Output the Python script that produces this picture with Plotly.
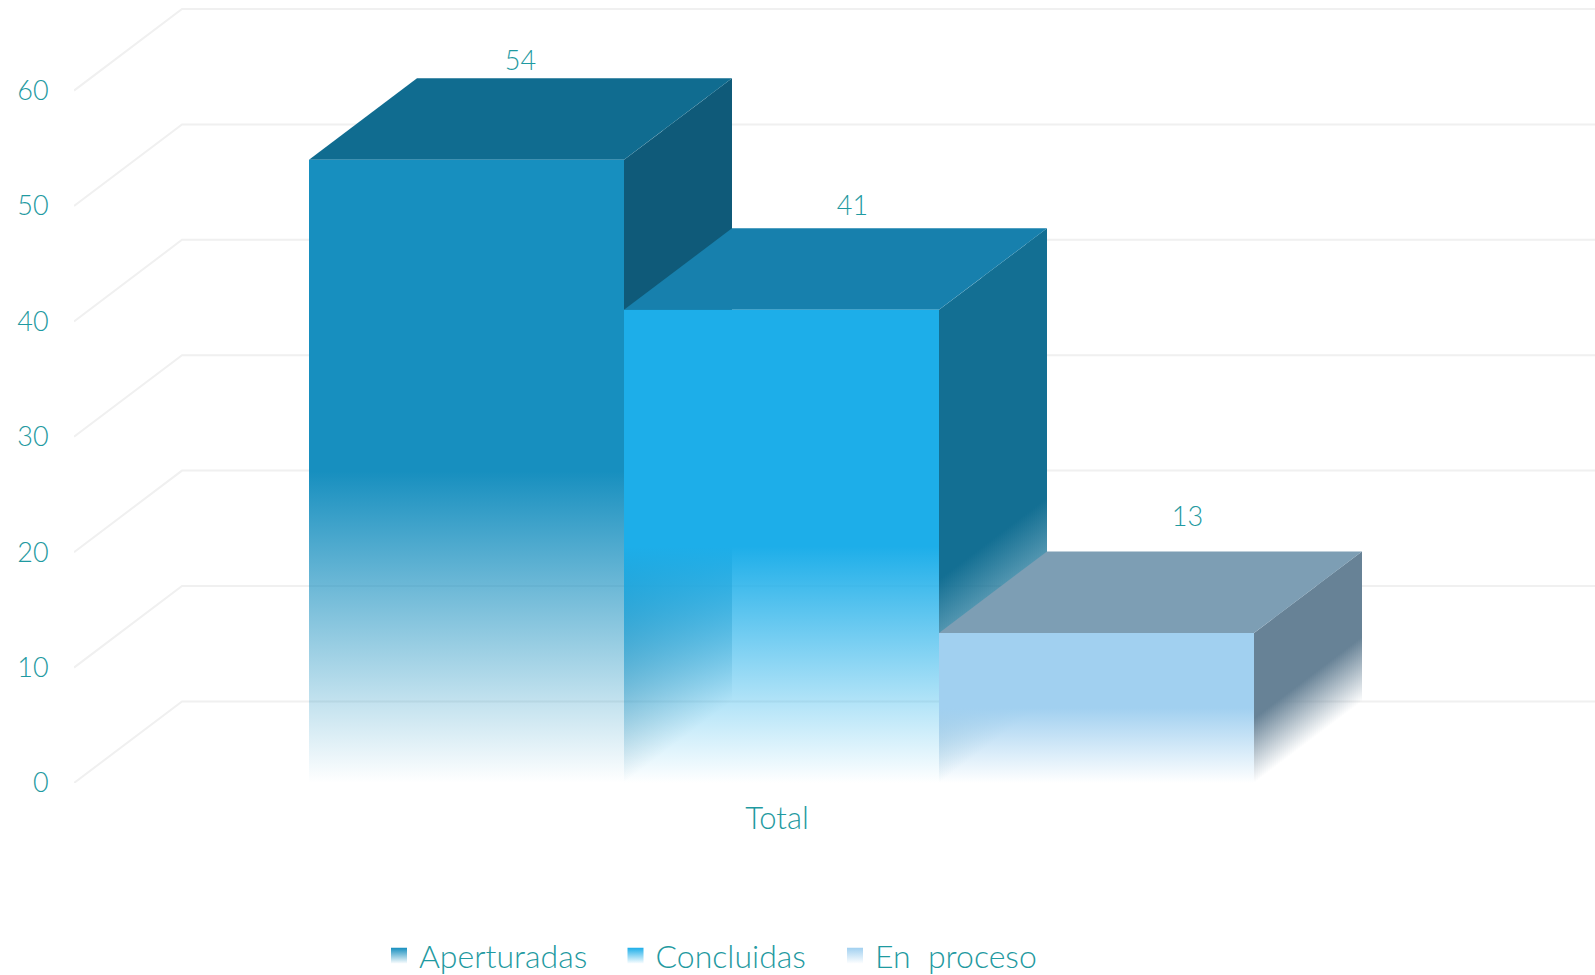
import plotly.graph_objects as go

categories = ["Total"]
series_names = ["Aperturadas", "Concluidas", "En  proceso"]
aperturadas = [54]
concluidas = [41]
en_proceso = [13]
y_ticks = [0, 10, 20, 30, 40, 50, 60]

all_values = [aperturadas[0], concluidas[0], en_proceso[0]]

# styling
TEXT = "#1F9AA1"
FONT = "Lato, 'Open Sans', sans-serif"
WEIGHT = 300
FRONT = [(23, 143, 191), (29, 174, 233), (161, 208, 240)]
TOP = ["#106C90", "#1780AD", "#7D9EB4"]
SIDE = [(15, 90, 121), (19, 111, 147), (103, 130, 150)]

# scales: one x unit = one bar width = 315 px, one y unit = 11.54 px
PW, PH = 1595, 975
ML, MB = 74, 192
UX = 315.0
UY = 11.54
CX = 781.5
x_lo = (ML - CX) / UX
x_hi = (PW - CX) / UX
y_hi = (PH - MB) / UY
DX = 108 / UX
DY = 81.6 / UY
STRIPS = 54
label_nudge_x = [0, 17 / UX, 37 / UX]
label_nudge_y = [1 / UY, 7 / UY, 19 / UY]
legend_left = [379, 615.5, 835]
legend_keys = ["legend", "legend2", "legend3"]


def rgba(c, a):
    return f"rgba({c[0]},{c[1]},{c[2]},{a})"


def fade(c, h):
    return [[0, rgba(c, 0)], [h, rgba(c, 1)], [1, rgba(c, 1)]]


def tfont(size):
    return dict(family=FONT, size=size, color=TEXT, weight=WEIGHT)


fig = go.Figure()

for v in y_ticks:
    fig.add_trace(go.Scatter(
        x=[x_lo, x_lo + DX, x_hi], y=[v, v + DY, v + DY],
        mode="lines", line=dict(color="#F0F0F0", width=2),
        showlegend=False, hoverinfo="skip"))

for i, v in enumerate(all_values):
    x0 = -1.5 + i
    x1 = x0 + 1
    # side face, vertical strips so that the fade runs parallel to the floor
    for s in range(STRIPS):
        a, b = s / STRIPS, (s + 1) / STRIPS
        m = (a + b) / 2
        fig.add_trace(go.Scatter(
            x=[x1 + DX * a, x1 + DX * b, x1 + DX * b, x1 + DX * a, x1 + DX * a],
            y=[DY * a, DY * b, v + DY * b, v + DY * a, DY * a],
            mode="none", fill="toself",
            fillgradient=dict(type="vertical", colorscale=fade(SIDE[i], 0.43),
                              start=DY * m, stop=v + DY * m),
            showlegend=False, hoverinfo="skip"))
    # top face
    fig.add_trace(go.Scatter(
        x=[x0, x1, x1 + DX, x0 + DX, x0], y=[v, v, v + DY, v + DY, v],
        mode="none", fill="toself", fillcolor=TOP[i],
        showlegend=False, hoverinfo="skip"))
    # front face
    fig.add_trace(go.Scatter(
        x=[x0, x1, x1, x0, x0], y=[0, 0, v, v, 0],
        mode="none", fill="toself",
        fillgradient=dict(type="vertical", colorscale=fade(FRONT[i], 0.5), start=0, stop=v),
        showlegend=False, hoverinfo="skip"))

# value labels
fig.add_trace(go.Scatter(
    x=[-1 + i + DX / 2 + label_nudge_x[i] for i in range(3)],
    y=[v + DY + label_nudge_y[i] for i, v in enumerate(all_values)],
    text=[str(v) for v in all_values],
    mode="text", textposition="top center",
    textfont=tfont(27),
    showlegend=False, hoverinfo="skip", cliponaxis=False))

# legend entries
for i, name in enumerate(series_names):
    fig.add_trace(go.Scatter(
        x=[None], y=[None], name=name, mode="markers", legend=legend_keys[i],
        marker=dict(symbol="square", size=16, color=rgba(FRONT[i], 1),
                    gradient=dict(type="vertical", color="white")),
        hoverinfo="skip"))

legends = {
    key: dict(orientation="h", xref="container", yref="container",
              x=legend_left[i] / PW, y=1 - 956 / PH, xanchor="left", yanchor="middle",
              font=tfont(32), bgcolor="rgba(0,0,0,0)")
    for i, key in enumerate(legend_keys)
}

fig.update_layout(
    width=PW, height=PH, autosize=False,
    margin=dict(l=ML, r=0, t=0, b=MB, pad=0),
    paper_bgcolor="white", plot_bgcolor="white",
    font=tfont(29),
    showlegend=True,
    xaxis=dict(range=[x_lo, x_hi], showgrid=False, zeroline=False, showline=False,
               tickmode="array", tickvals=[-4.5 / UX], ticktext=categories,
               ticks="outside", ticklen=8, tickcolor="rgba(0,0,0,0)",
               tickfont=tfont(31)),
    yaxis=dict(range=[0, y_hi], showgrid=False, zeroline=False, showline=False,
               tickmode="array", tickvals=y_ticks,
               ticks="outside", ticklen=19, tickcolor="rgba(0,0,0,0)",
               tickfont=tfont(27)),
    **legends,
)

fig.write_html("out.html", config={"displayModeBar": False},
               post_script="document.body.style.margin='0';document.documentElement.style.overflow='hidden';")
